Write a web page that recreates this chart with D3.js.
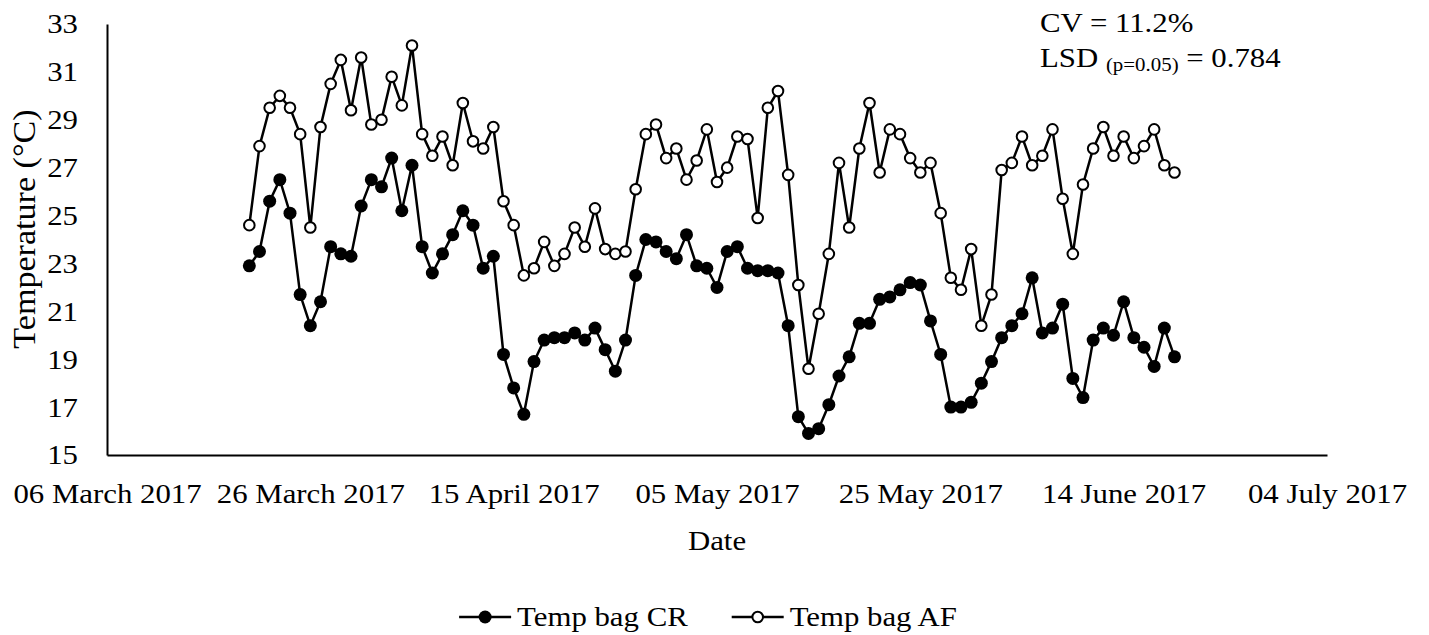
<!DOCTYPE html>
<html>
<head>
<meta charset="utf-8">
<script src="https://cdn.jsdelivr.net/npm/d3@7"></script>
<style>
  html, body { margin: 0; padding: 0; background: #fff; }
  svg { display: block; }
  text { font-family: "Liberation Serif", "Times New Roman", serif; fill: #000; }
</style>
</head>
<body>
<svg id="chart" width="1429" height="635"></svg>
<script>
// first reading date, one reading per day after it
const startDate = "2017-03-20";

const crValues = [
  22.9, 23.5, 25.6, 26.5, 25.1, 21.7, 20.4, 21.4, 23.7, 23.4,
  23.3, 25.4, 26.5, 26.2, 27.4, 25.2, 27.1, 23.7, 22.6, 23.4,
  24.2, 25.2, 24.6, 22.8, 23.3, 19.2, 17.8, 16.7, 18.9, 19.8,
  19.9, 19.9, 20.1, 19.8, 20.3, 19.4, 18.5, 19.8, 22.5, 24.0,
  23.9, 23.5, 23.2, 24.2, 22.9, 22.8, 22.0, 23.5, 23.7, 22.8,
  22.7, 22.7, 22.6, 20.4, 16.6, 15.9, 16.1, 17.1, 18.3, 19.1,
  20.5, 20.5, 21.5, 21.6, 21.9, 22.2, 22.1, 20.6, 19.2, 17.0,
  17.0, 17.2, 18.0, 18.9, 19.9, 20.4, 20.9, 22.4, 20.1, 20.3,
  21.3, 18.2, 17.4, 19.8, 20.3, 20.0, 21.4, 19.9, 19.5, 18.7,
  20.3, 19.1
];

const afValues = [
  24.6, 27.9, 29.5, 30.0, 29.5, 28.4, 24.5, 28.7, 30.5, 31.5,
  29.4, 31.6, 28.8, 29.0, 30.8, 29.6, 32.1, 28.4, 27.5, 28.3,
  27.1, 29.7, 28.1, 27.8, 28.7, 25.6, 24.6, 22.5, 22.8, 23.9,
  22.9, 23.4, 24.5, 23.7, 25.3, 23.6, 23.4, 23.5, 26.1, 28.4,
  28.8, 27.4, 27.8, 26.5, 27.3, 28.6, 26.4, 27.0, 28.3, 28.2,
  24.9, 29.5, 30.2, 26.7, 22.1, 18.6, 20.9, 23.4, 27.2, 24.5,
  27.8, 29.7, 26.8, 28.6, 28.4, 27.4, 26.8, 27.2, 25.1, 22.4,
  21.9, 23.6, 20.4, 21.7, 26.9, 27.2, 28.3, 27.1, 27.5, 28.6,
  25.7, 23.4, 26.3, 27.8, 28.7, 27.5, 28.3, 27.4, 27.9, 28.6,
  27.1, 26.8
];

const seriesNames = ["Temp bag CR", "Temp bag AF"];
const xTickDates = ["2017-03-06", "2017-03-26", "2017-04-15", "2017-05-05",
  "2017-05-25", "2017-06-14", "2017-07-04"];
const yTicks = [15, 17, 19, 21, 23, 25, 27, 29, 31, 33];

const FONT = 28;
const SX = 1.1; // text in the original is drawn a little wide
const parse = d3.timeParse("%Y-%m-%d");
const start = parse(startDate);

const series = [
  { name: seriesNames[0], values: crValues, filled: true },
  { name: seriesNames[1], values: afValues, filled: false }
];
series.forEach(s => {
  s.points = s.values.map((v, i) => ({ date: d3.timeDay.offset(start, i), value: v }));
});

const svg = d3.select("#chart");

const x = d3.scaleTime()
  .domain(d3.extent(xTickDates, parse))
  .range([107, 1327]);
const y = d3.scaleLinear()
  .domain([15, 33])
  .range([455, 24]);

// Axes
const xAxis = d3.axisBottom(x)
  .tickValues(xTickDates.map(parse))
  .tickFormat(d3.timeFormat("%d %B %Y"))
  .tickSize(0)
  .tickPadding(28);
const yAxis = d3.axisLeft(y)
  .tickValues(yTicks)
  .tickSize(0)
  .tickPadding(29);

const gx = svg.append("g").attr("transform", `translate(0, ${y(15)})`).call(xAxis);
const gy = svg.append("g").attr("transform", `translate(${x.range()[0]}, 0)`).call(yAxis);
[gx, gy].forEach(g => {
  g.select(".domain").attr("stroke", "#000").attr("stroke-width", 2);
  g.selectAll("text")
    .attr("font-size", FONT)
    .attr("font-family", "Liberation Serif, serif")
    .attr("fill", "#000")
    .attr("transform", `scale(${SX}, 1)`);
});
gy.selectAll("text").attr("x", -29 / SX);

svg.append("text")
  .text("Date")
  .attr("transform", `translate(${(x.range()[0] + x.range()[1]) / 2}, 550) scale(${SX}, 1)`)
  .attr("text-anchor", "middle")
  .attr("font-size", FONT);

svg.append("text")
  .text("Temperature (°C)")
  .attr("transform", `translate(35, 229) rotate(-90) scale(${SX}, 1)`)
  .attr("text-anchor", "middle")
  .attr("font-size", 31);

// Lines and markers
const line = d3.line()
  .x(d => x(d.date))
  .y(d => y(d.value));

series.forEach(s => {
  const g = svg.append("g");
  g.append("path")
    .datum(s.points)
    .attr("fill", "none")
    .attr("stroke", "#000")
    .attr("stroke-width", 2.5)
    .attr("d", line);
  g.selectAll("circle")
    .data(s.points)
    .enter()
    .append("circle")
    .attr("cx", d => x(d.date))
    .attr("cy", d => y(d.value))
    .attr("r", s.filled ? 6.5 : 5.3)
    .attr("fill", s.filled ? "#000" : "#fff")
    .attr("stroke", "#000")
    .attr("stroke-width", s.filled ? 0 : 2);
});

// Stats note
const note = svg.append("g")
  .attr("font-size", FONT)
  .attr("transform", `translate(1040, 0) scale(${SX}, 1)`);
note.append("text").attr("y", 32).text("CV = 11.2%");
const lsd = note.append("text").attr("y", 67);
lsd.append("tspan").text("LSD ");
lsd.append("tspan").attr("font-size", 19).attr("dy", 4).text("(p=0.05)");
lsd.append("tspan").attr("dy", -4).text(" = 0.784");

// Legend
const legend = svg.append("g").attr("transform", "translate(0, 617)");
const items = legend.selectAll("g")
  .data(series)
  .enter()
  .append("g");
items.append("line")
  .attr("x1", 0).attr("x2", 52)
  .attr("stroke", "#000")
  .attr("stroke-width", 2.5);
items.append("circle")
  .attr("cx", 26)
  .attr("r", d => d.filled ? 6.5 : 5.3)
  .attr("fill", d => d.filled ? "#000" : "#fff")
  .attr("stroke", "#000")
  .attr("stroke-width", d => d.filled ? 0 : 2);
items.append("text")
  .attr("transform", `translate(58, 0) scale(${SX}, 1)`)
  .attr("dy", "0.32em")
  .attr("font-size", FONT)
  .text(d => d.name);

const widths = [];
items.each(function () {
  widths.push(58 + SX * d3.select(this).select("text").node().getComputedTextLength());
});
const gap = 44;
const total = d3.sum(widths) + gap * (widths.length - 1);
let cursor = 708 - total / 2;
items.attr("transform", (d, i) => {
  const t = `translate(${cursor}, 0)`;
  cursor += widths[i] + gap;
  return t;
});
</script>
</body>
</html>
